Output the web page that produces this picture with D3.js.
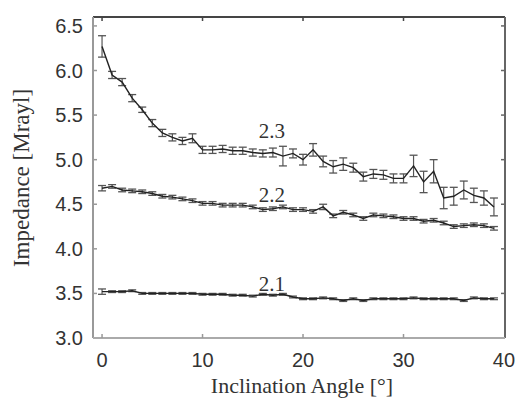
<!DOCTYPE html>
<html>
<head>
<meta charset="utf-8">
<script src="https://cdn.jsdelivr.net/npm/d3@7"></script>
<style>
  body { margin: 0; background: #fff; }
  svg { display: block; }
</style>
</head>
<body>
<svg id="chart" width="517" height="399"></svg>
<script>
// inclination angle in degrees, one point per degree
const angles = d3.range(0, 40)

// series 2.3
const z23 = [6.27, 5.95, 5.87, 5.69, 5.56, 5.41, 5.30, 5.25, 5.21, 5.24,
             5.11, 5.11, 5.12, 5.10, 5.10, 5.08, 5.07, 5.08, 5.04, 5.07,
             5.00, 5.11, 4.98, 4.92, 4.95, 4.91, 4.81, 4.84, 4.83, 4.79,
             4.79, 4.93, 4.75, 4.87, 4.57, 4.59, 4.66, 4.60, 4.57, 4.47]
const e23 = [0.12, 0.04, 0.04, 0.04, 0.03, 0.04, 0.04, 0.04, 0.04, 0.05,
             0.04, 0.04, 0.04, 0.04, 0.04, 0.04, 0.04, 0.05, 0.11, 0.05,
             0.06, 0.07, 0.06, 0.07, 0.07, 0.05, 0.05, 0.05, 0.05, 0.05,
             0.05, 0.12, 0.12, 0.13, 0.12, 0.10, 0.10, 0.08, 0.08, 0.10]

// series 2.2
const z22 = [4.68, 4.70, 4.66, 4.65, 4.64, 4.62, 4.59, 4.58, 4.56, 4.54,
             4.51, 4.51, 4.49, 4.49, 4.49, 4.47, 4.44, 4.45, 4.47, 4.44,
             4.44, 4.42, 4.47, 4.37, 4.41, 4.38, 4.34, 4.38, 4.37, 4.36,
             4.34, 4.34, 4.31, 4.32, 4.29, 4.25, 4.26, 4.27, 4.26, 4.23]
const e22 = [0.03, 0.02, 0.02, 0.02, 0.02, 0.02, 0.02, 0.02, 0.02, 0.02,
             0.02, 0.02, 0.02, 0.02, 0.02, 0.02, 0.02, 0.02, 0.02, 0.02,
             0.02, 0.02, 0.03, 0.02, 0.02, 0.02, 0.02, 0.02, 0.02, 0.02,
             0.02, 0.02, 0.02, 0.02, 0.02, 0.02, 0.02, 0.02, 0.02, 0.02]

// series 2.1
const z21 = [3.52, 3.52, 3.52, 3.53, 3.50, 3.50, 3.50, 3.50, 3.50, 3.50,
             3.49, 3.49, 3.49, 3.48, 3.48, 3.47, 3.49, 3.48, 3.49, 3.46,
             3.44, 3.44, 3.45, 3.44, 3.42, 3.44, 3.42, 3.44, 3.44, 3.44,
             3.44, 3.45, 3.44, 3.44, 3.44, 3.44, 3.42, 3.45, 3.44, 3.44]
const e21 = [0.03, 0.01, 0.01, 0.01, 0.01, 0.01, 0.01, 0.01, 0.01, 0.01,
             0.01, 0.01, 0.01, 0.01, 0.01, 0.01, 0.01, 0.01, 0.01, 0.01,
             0.01, 0.01, 0.01, 0.01, 0.01, 0.01, 0.01, 0.01, 0.01, 0.01,
             0.01, 0.01, 0.01, 0.01, 0.01, 0.01, 0.01, 0.01, 0.01, 0.01]

const seriesNames = ["2.3", "2.2", "2.1"]
const labelPos = [[15.6, 5.24], [15.6, 4.525], [15.6, 3.53]]  // data coords of the curve labels

const xTicks = [0, 10, 20, 30, 40]
const yTicks = [3.0, 3.5, 4.0, 4.5, 5.0, 5.5, 6.0, 6.5]

const series = [
  { name: seriesNames[0], vals: z23, errs: e23 },
  { name: seriesNames[1], vals: z22, errs: e22 },
  { name: seriesNames[2], vals: z21, errs: e21 }
]

const pL = 93, pR = 505, pT = 17, pB = 338

const x = d3.scaleLinear().domain([-0.9, 40.1]).range([pL, pR])
const y = d3.scaleLinear().domain([3, 6.6]).range([pB, pT])

const svg = d3.select('#chart')

svg.append('defs').append('filter').attr('id', 'soft')
  .append('feGaussianBlur').attr('stdDeviation', 0.45)
const plot = svg.append('g').attr('filter', 'url(#soft)')

// frame
plot.append('line').attr('x1', pL).attr('x2', pR).attr('y1', pT).attr('y2', pT)
  .attr('stroke', '#444').attr('stroke-width', 2)
plot.append('line').attr('x1', pR).attr('x2', pR).attr('y1', pT).attr('y2', pB)
  .attr('stroke', '#666').attr('stroke-width', 2)
plot.append('line').attr('x1', pL).attr('x2', pL).attr('y1', pT).attr('y2', pB)
  .attr('stroke', '#999').attr('stroke-width', 2)
plot.append('line').attr('x1', pL).attr('x2', pR).attr('y1', pB).attr('y2', pB)
  .attr('stroke', '#aaa').attr('stroke-width', 2)

// inward ticks on all four sides
plot.selectAll('.xt').data(xTicks.slice(0, 4)).enter().append('g').each(function (d) {
  const g = d3.select(this)
  g.append('line').attr('x1', x(d)).attr('x2', x(d)).attr('y1', pB).attr('y2', pB - 4)
    .attr('stroke', '#999').attr('stroke-width', 1.5)
  g.append('line').attr('x1', x(d)).attr('x2', x(d)).attr('y1', pT).attr('y2', pT + 4)
    .attr('stroke', '#444').attr('stroke-width', 1.5)
})
plot.selectAll('.yt').data(yTicks.slice(1)).enter().append('g').each(function (d) {
  const g = d3.select(this)
  g.append('line').attr('x1', pL).attr('x2', pL + 4).attr('y1', y(d)).attr('y2', y(d))
    .attr('stroke', '#999').attr('stroke-width', 1.5)
  g.append('line').attr('x1', pR).attr('x2', pR - 4).attr('y1', y(d)).attr('y2', y(d))
    .attr('stroke', '#666').attr('stroke-width', 1.5)
})

// tick labels
svg.selectAll('.xl').data(xTicks).enter().append('text')
  .attr('x', d => x(d)).attr('y', 367)
  .attr('text-anchor', 'middle')
  .style('font-family', 'Liberation Sans, Arial, sans-serif')
  .style('font-size', '20px').attr('fill', '#333')
  .text(d => d)

svg.selectAll('.yl').data(yTicks).enter().append('text')
  .attr('x', 83).attr('y', d => y(d) + 7)
  .attr('text-anchor', 'end')
  .style('font-family', 'Liberation Sans, Arial, sans-serif')
  .style('font-size', '20px').attr('fill', '#333')
  .text(d => d.toFixed(1))

// axis titles
svg.append('text')
  .attr('x', 302).attr('y', 393)
  .attr('text-anchor', 'middle')
  .style('font-family', 'Liberation Serif, Times New Roman, serif')
  .style('font-size', '22px').attr('fill', '#333')
  .text('Inclination Angle [°]')

svg.append('text')
  .attr('transform', 'translate(29,178) rotate(-90)')
  .attr('text-anchor', 'middle')
  .style('font-family', 'Liberation Serif, Times New Roman, serif')
  .style('font-size', '23px').attr('fill', '#333')
  .text('Impedance [Mrayl]')

// series: line + error bars
const line = d3.line().x((d, i) => x(angles[i])).y(d => y(d))

series.forEach((s, k) => {
  const g = plot.append('g')
  const bars = g.selectAll('.eb').data(s.vals).enter().append('g')
  bars.append('line')
    .attr('x1', (d, i) => x(angles[i])).attr('x2', (d, i) => x(angles[i]))
    .attr('y1', (d, i) => y(d - s.errs[i])).attr('y2', (d, i) => y(d + s.errs[i]))
    .attr('stroke', '#555').attr('stroke-width', 1.2)
  bars.append('line')
    .attr('x1', (d, i) => x(angles[i]) - 4).attr('x2', (d, i) => x(angles[i]) + 4)
    .attr('y1', (d, i) => y(d + s.errs[i])).attr('y2', (d, i) => y(d + s.errs[i]))
    .attr('stroke', '#555').attr('stroke-width', 1.3)
  bars.append('line')
    .attr('x1', (d, i) => x(angles[i]) - 4).attr('x2', (d, i) => x(angles[i]) + 4)
    .attr('y1', (d, i) => y(d - s.errs[i])).attr('y2', (d, i) => y(d - s.errs[i]))
    .attr('stroke', '#555').attr('stroke-width', 1.3)

  g.append('path').datum(s.vals)
    .attr('d', line)
    .attr('fill', 'none').attr('stroke', '#222').attr('stroke-width', 1.4)

  svg.append('text')
    .attr('x', x(labelPos[k][0])).attr('y', y(labelPos[k][1]))
    .style('font-family', 'Liberation Serif, Times New Roman, serif')
    .style('font-size', '21px').attr('fill', '#333')
    .text(s.name)
})
</script>
</body>
</html>
